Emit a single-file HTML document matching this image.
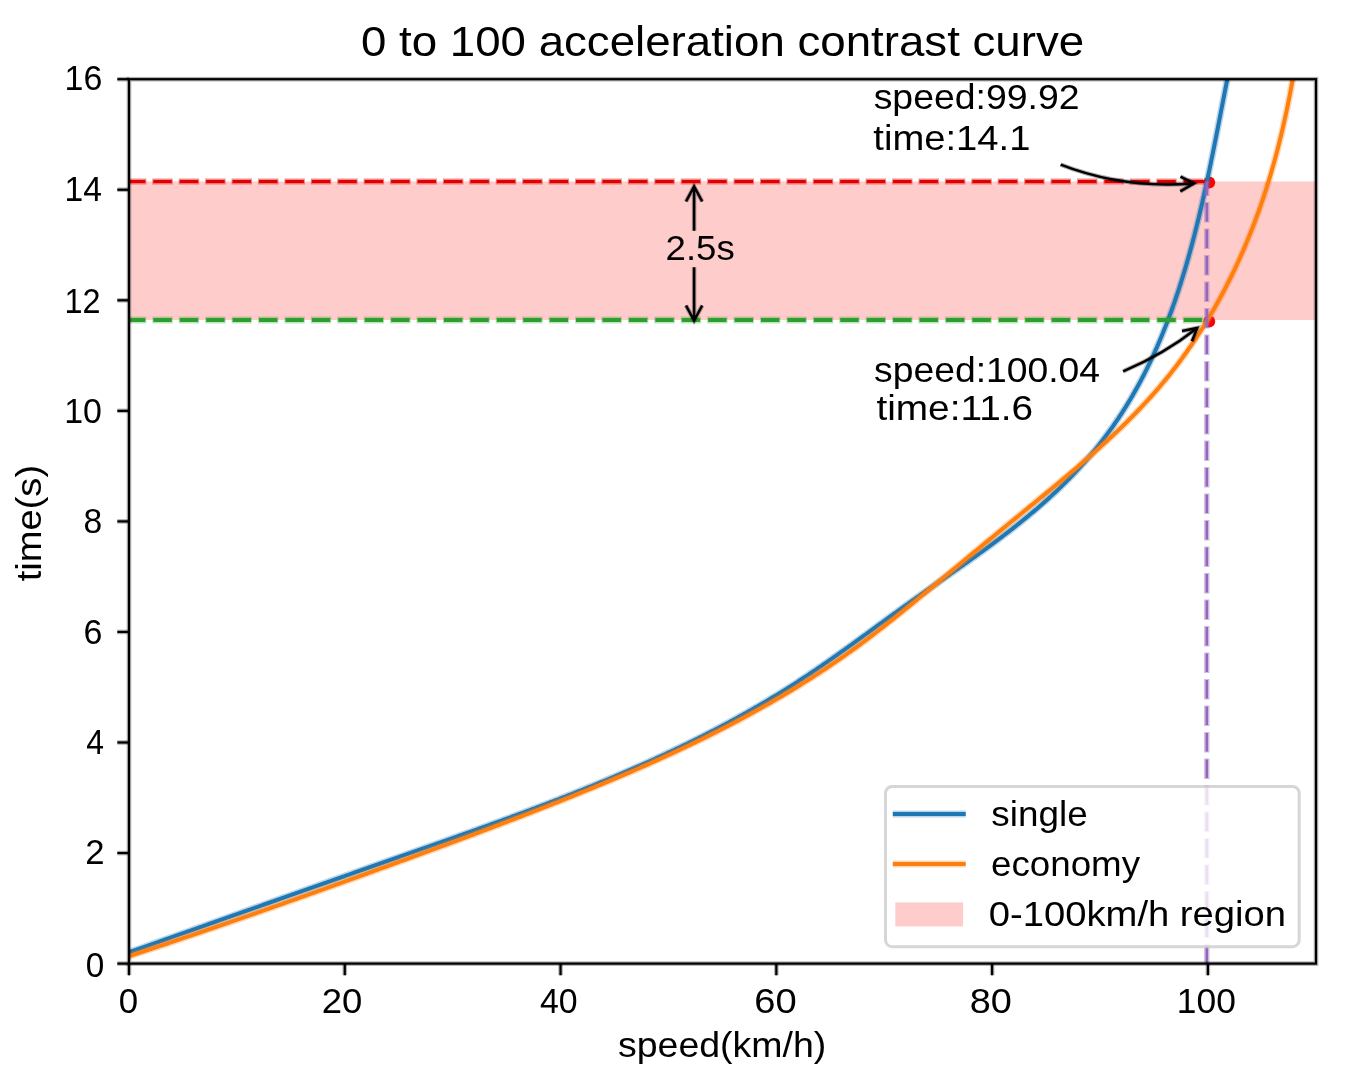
<!DOCTYPE html>
<html><head><meta charset="utf-8"><style>
html,body{margin:0;padding:0;background:#fff;}
body{width:1345px;height:1079px;overflow:hidden;}
svg{display:block;will-change:transform;}
text{font-family:"Liberation Sans",sans-serif;fill:#000;}
</style></head><body>
<svg width="1345" height="1079" viewBox="0 0 1345 1079">
<rect width="1345" height="1079" fill="#fff"/>
<defs><clipPath id="ax"><rect x="129.0" y="79.2" width="1187.0" height="884.4"/></clipPath></defs>
<rect x="129.0" y="181.5" width="1187.0" height="138.5" fill="#ffcccc"/>
<circle cx="1209.2" cy="182.6" r="6" fill="#ff0000"/>
<circle cx="1209.2" cy="321.6" r="6" fill="#ff0000"/>
<path d="M128.90,952.36 L130.69,951.73 L132.48,951.10 L134.27,950.47 L136.05,949.84 L137.84,949.21 L139.63,948.58 L141.41,947.95 L143.20,947.32 L144.99,946.69 L146.77,946.06 L148.56,945.43 L150.34,944.79 L152.13,944.16 L153.91,943.53 L155.70,942.90 L157.48,942.27 L159.27,941.64 L161.05,941.01 L162.83,940.38 L164.62,939.75 L166.40,939.12 L168.18,938.49 L169.97,937.86 L171.75,937.23 L173.53,936.60 L175.31,935.97 L177.10,935.34 L178.88,934.71 L180.66,934.08 L182.44,933.45 L184.22,932.82 L186.00,932.19 L187.78,931.56 L189.57,930.93 L191.35,930.30 L193.13,929.67 L194.91,929.04 L196.69,928.41 L198.47,927.78 L200.25,927.15 L202.03,926.52 L203.81,925.89 L205.58,925.26 L207.36,924.64 L209.14,924.01 L210.92,923.38 L212.70,922.75 L214.48,922.12 L216.26,921.49 L218.04,920.86 L219.81,920.23 L221.59,919.60 L223.37,918.97 L225.15,918.34 L226.93,917.71 L228.70,917.08 L230.48,916.46 L232.26,915.83 L234.04,915.20 L235.81,914.57 L237.59,913.94 L239.37,913.31 L241.14,912.68 L242.92,912.05 L244.70,911.43 L246.47,910.80 L248.25,910.17 L250.03,909.54 L251.80,908.91 L253.58,908.28 L255.36,907.65 L257.13,907.03 L258.91,906.40 L260.69,905.77 L262.46,905.14 L264.24,904.51 L266.02,903.88 L267.79,903.26 L269.57,902.63 L271.34,902.00 L273.12,901.37 L274.90,900.74 L276.67,900.12 L278.45,899.49 L280.22,898.86 L282.00,898.23 L283.78,897.60 L285.55,896.98 L287.33,896.35 L289.10,895.72 L290.88,895.09 L292.66,894.46 L294.43,893.84 L296.21,893.21 L297.98,892.58 L299.76,891.95 L301.54,891.33 L303.31,890.70 L305.09,890.07 L306.86,889.44 L308.64,888.82 L310.42,888.19 L312.19,887.56 L313.97,886.93 L315.75,886.31 L317.52,885.68 L319.30,885.05 L321.08,884.43 L322.85,883.80 L324.63,883.17 L326.41,882.54 L328.18,881.92 L329.96,881.29 L331.74,880.66 L333.51,880.04 L335.29,879.41 L337.07,878.78 L338.85,878.16 L340.62,877.53 L342.40,876.90 L344.18,876.27 L345.96,875.65 L347.73,875.02 L349.51,874.39 L351.29,873.77 L353.07,873.14 L354.85,872.51 L356.62,871.89 L358.40,871.26 L360.18,870.64 L361.96,870.01 L363.74,869.38 L365.52,868.76 L367.30,868.13 L369.08,867.50 L370.86,866.88 L372.64,866.25 L374.42,865.62 L376.20,865.00 L377.98,864.37 L379.76,863.75 L381.54,863.12 L383.32,862.49 L385.10,861.87 L386.88,861.24 L388.66,860.62 L390.44,859.99 L392.23,859.36 L394.01,858.74 L395.79,858.11 L397.57,857.49 L399.35,856.86 L401.14,856.23 L402.92,855.61 L404.70,854.98 L406.49,854.36 L408.27,853.73 L410.05,853.10 L411.84,852.48 L413.62,851.85 L415.41,851.23 L417.19,850.60 L418.97,849.97 L420.76,849.35 L422.54,848.72 L424.33,848.09 L426.11,847.47 L427.90,846.84 L429.68,846.21 L431.47,845.59 L433.25,844.96 L435.04,844.33 L436.82,843.70 L438.61,843.07 L440.39,842.44 L442.18,841.81 L443.96,841.18 L445.75,840.55 L447.53,839.92 L449.31,839.29 L451.10,838.66 L452.88,838.03 L454.67,837.40 L456.45,836.77 L458.24,836.13 L460.02,835.50 L461.81,834.87 L463.59,834.23 L465.37,833.60 L467.16,832.96 L468.94,832.33 L470.73,831.69 L472.51,831.05 L474.29,830.42 L476.08,829.78 L477.86,829.14 L479.64,828.50 L481.42,827.86 L483.21,827.22 L484.99,826.58 L486.77,825.93 L488.55,825.29 L490.33,824.65 L492.11,824.00 L493.89,823.36 L495.68,822.71 L497.46,822.07 L499.24,821.42 L501.01,820.77 L502.79,820.12 L504.57,819.47 L506.35,818.82 L508.13,818.17 L509.91,817.52 L511.69,816.86 L513.46,816.21 L515.24,815.55 L517.02,814.90 L518.79,814.24 L520.57,813.58 L522.34,812.92 L524.12,812.26 L525.89,811.60 L527.66,810.94 L529.44,810.27 L531.21,809.61 L532.98,808.94 L534.76,808.28 L536.53,807.61 L538.30,806.94 L540.07,806.27 L541.84,805.60 L543.61,804.92 L545.38,804.25 L547.14,803.58 L548.91,802.90 L550.68,802.22 L552.45,801.54 L554.21,800.86 L555.98,800.18 L557.74,799.50 L559.51,798.82 L561.27,798.13 L563.03,797.44 L564.79,796.76 L566.56,796.07 L568.32,795.37 L570.08,794.68 L571.84,793.99 L573.59,793.29 L575.35,792.60 L577.11,791.90 L578.87,791.20 L580.62,790.50 L582.38,789.80 L584.13,789.09 L585.89,788.39 L587.64,787.68 L589.39,786.97 L591.14,786.26 L592.89,785.55 L594.64,784.83 L596.39,784.12 L598.14,783.40 L599.89,782.68 L601.63,781.96 L603.38,781.24 L605.12,780.52 L606.87,779.79 L608.61,779.06 L610.35,778.33 L612.09,777.60 L613.84,776.87 L615.57,776.14 L617.31,775.40 L619.05,774.66 L620.79,773.92 L622.52,773.18 L624.26,772.44 L625.99,771.69 L627.72,770.94 L629.46,770.19 L631.19,769.44 L632.92,768.69 L634.65,767.93 L636.37,767.18 L638.10,766.42 L639.83,765.66 L641.55,764.89 L643.27,764.13 L645.00,763.36 L646.72,762.59 L648.44,761.82 L650.16,761.04 L651.87,760.27 L653.59,759.49 L655.31,758.71 L657.02,757.93 L658.74,757.14 L660.45,756.36 L662.16,755.57 L663.87,754.77 L665.58,753.98 L667.29,753.18 L668.99,752.39 L670.70,751.59 L672.40,750.78 L674.10,749.98 L675.81,749.17 L677.51,748.36 L679.21,747.55 L680.90,746.73 L682.60,745.92 L684.29,745.10 L685.99,744.28 L687.68,743.45 L689.37,742.62 L691.06,741.79 L692.75,740.96 L694.44,740.13 L696.12,739.29 L697.81,738.45 L699.49,737.61 L701.17,736.77 L702.85,735.92 L704.53,735.07 L706.21,734.22 L707.89,733.36 L709.56,732.50 L711.24,731.64 L712.91,730.78 L714.58,729.92 L716.25,729.05 L717.91,728.18 L719.58,727.30 L721.24,726.43 L722.91,725.55 L724.57,724.66 L726.23,723.78 L727.89,722.89 L729.55,722.00 L731.20,721.11 L732.85,720.21 L734.51,719.31 L736.16,718.41 L737.81,717.50 L739.45,716.60 L741.10,715.68 L742.74,714.77 L744.39,713.85 L746.03,712.93 L747.67,712.01 L749.31,711.09 L750.94,710.16 L752.58,709.22 L754.21,708.29 L755.84,707.35 L757.47,706.41 L759.10,705.47 L760.72,704.52 L762.35,703.57 L763.97,702.61 L765.59,701.66 L767.21,700.70 L768.83,699.73 L770.44,698.77 L772.06,697.80 L773.67,696.82 L775.28,695.85 L776.89,694.87 L778.49,693.89 L780.10,692.90 L781.70,691.91 L783.30,690.92 L784.90,689.92 L786.50,688.92 L788.09,687.92 L789.69,686.91 L791.28,685.90 L792.87,684.89 L794.46,683.87 L796.04,682.85 L797.63,681.83 L799.21,680.80 L800.79,679.77 L802.37,678.74 L803.94,677.70 L805.52,676.66 L807.09,675.62 L808.66,674.57 L810.23,673.52 L811.80,672.47 L813.36,671.41 L814.93,670.35 L816.49,669.29 L818.05,668.22 L819.61,667.16 L821.17,666.09 L822.73,665.02 L824.28,663.94 L825.84,662.86 L827.39,661.78 L828.94,660.70 L830.49,659.62 L832.04,658.53 L833.59,657.45 L835.13,656.36 L836.68,655.26 L838.22,654.17 L839.77,653.08 L841.31,651.98 L842.85,650.88 L844.39,649.78 L845.93,648.68 L847.47,647.58 L849.01,646.47 L850.55,645.37 L852.08,644.26 L853.62,643.15 L855.16,642.05 L856.69,640.94 L858.22,639.83 L859.76,638.71 L861.29,637.60 L862.82,636.49 L864.36,635.38 L865.89,634.26 L867.42,633.15 L868.95,632.04 L870.48,630.92 L872.01,629.81 L873.54,628.69 L875.08,627.58 L876.61,626.46 L878.14,625.35 L879.67,624.23 L881.20,623.12 L882.73,622.00 L884.26,620.89 L885.79,619.78 L887.32,618.66 L888.85,617.55 L890.38,616.44 L891.91,615.33 L893.44,614.22 L894.98,613.11 L896.51,612.00 L898.04,610.89 L899.57,609.79 L901.11,608.68 L902.64,607.58 L904.18,606.47 L905.71,605.37 L907.25,604.27 L908.78,603.18 L910.32,602.08 L911.86,600.98 L913.40,599.89 L914.94,598.80 L916.48,597.71 L918.02,596.62 L919.56,595.53 L921.10,594.45 L922.65,593.36 L924.19,592.28 L925.73,591.19 L927.28,590.11 L928.82,589.03 L930.37,587.95 L931.91,586.87 L933.46,585.79 L935.00,584.71 L936.55,583.63 L938.09,582.56 L939.64,581.48 L941.18,580.40 L942.73,579.32 L944.27,578.25 L945.82,577.17 L947.36,576.09 L948.91,575.01 L950.45,573.93 L952.00,572.85 L953.54,571.77 L955.08,570.69 L956.63,569.61 L958.17,568.53 L959.71,567.45 L961.25,566.36 L962.79,565.28 L964.33,564.19 L965.87,563.11 L967.41,562.02 L968.95,560.93 L970.48,559.83 L972.02,558.74 L973.55,557.65 L975.09,556.55 L976.62,555.45 L978.15,554.35 L979.68,553.25 L981.21,552.14 L982.74,551.03 L984.26,549.92 L985.79,548.81 L987.31,547.70 L988.84,546.58 L990.36,545.46 L991.88,544.34 L993.39,543.21 L994.91,542.08 L996.42,540.95 L997.94,539.82 L999.45,538.68 L1000.95,537.54 L1002.46,536.40 L1003.96,535.25 L1005.46,534.10 L1006.96,532.95 L1008.46,531.80 L1009.96,530.64 L1011.45,529.48 L1012.94,528.31 L1014.42,527.14 L1015.91,525.97 L1017.39,524.79 L1018.87,523.61 L1020.34,522.43 L1021.81,521.24 L1023.28,520.05 L1024.75,518.86 L1026.21,517.66 L1027.67,516.46 L1029.13,515.25 L1030.58,514.04 L1032.03,512.82 L1033.47,511.60 L1034.91,510.38 L1036.35,509.15 L1037.78,507.92 L1039.21,506.68 L1040.64,505.44 L1042.06,504.20 L1043.48,502.95 L1044.89,501.69 L1046.30,500.43 L1047.71,499.17 L1049.11,497.90 L1050.50,496.63 L1051.89,495.35 L1053.28,494.07 L1054.66,492.78 L1056.04,491.49 L1057.41,490.19 L1058.78,488.88 L1060.14,487.57 L1061.50,486.26 L1062.85,484.94 L1064.20,483.62 L1065.54,482.29 L1066.88,480.95 L1068.21,479.61 L1069.53,478.26 L1070.85,476.91 L1072.17,475.55 L1073.48,474.19 L1074.78,472.82 L1076.07,471.44 L1077.37,470.06 L1078.65,468.67 L1079.93,467.28 L1081.20,465.88 L1082.47,464.48 L1083.73,463.06 L1084.98,461.65 L1086.23,460.23 L1087.47,458.80 L1088.70,457.36 L1089.93,455.92 L1091.15,454.48 L1092.37,453.03 L1093.58,451.57 L1094.78,450.11 L1095.97,448.64 L1097.16,447.17 L1098.34,445.69 L1099.52,444.21 L1100.69,442.72 L1101.85,441.23 L1103.00,439.73 L1104.15,438.23 L1105.29,436.72 L1106.42,435.21 L1107.54,433.69 L1108.66,432.17 L1109.77,430.64 L1110.87,429.11 L1111.97,427.58 L1113.06,426.04 L1114.14,424.49 L1115.21,422.94 L1116.27,421.39 L1117.33,419.83 L1118.38,418.27 L1119.42,416.70 L1120.46,415.13 L1121.48,413.55 L1122.50,411.97 L1123.51,410.39 L1124.52,408.80 L1125.52,407.21 L1126.50,405.61 L1127.49,404.01 L1128.46,402.41 L1129.43,400.80 L1130.39,399.19 L1131.34,397.58 L1132.29,395.96 L1133.23,394.33 L1134.16,392.71 L1135.08,391.07 L1136.00,389.44 L1136.91,387.80 L1137.82,386.16 L1138.71,384.51 L1139.60,382.86 L1140.49,381.21 L1141.36,379.56 L1142.23,377.90 L1143.10,376.23 L1143.96,374.57 L1144.81,372.89 L1145.65,371.22 L1146.49,369.54 L1147.32,367.86 L1148.14,366.18 L1148.96,364.49 L1149.78,362.80 L1150.58,361.11 L1151.38,359.41 L1152.17,357.71 L1152.96,356.01 L1153.74,354.30 L1154.52,352.59 L1155.29,350.88 L1156.05,349.17 L1156.81,347.45 L1157.56,345.73 L1158.31,344.00 L1159.05,342.28 L1159.78,340.55 L1160.51,338.81 L1161.24,337.08 L1161.95,335.34 L1162.67,333.60 L1163.37,331.86 L1164.07,330.11 L1164.77,328.36 L1165.46,326.61 L1166.15,324.86 L1166.83,323.10 L1167.50,321.34 L1168.17,319.58 L1168.83,317.82 L1169.49,316.05 L1170.15,314.28 L1170.80,312.51 L1171.44,310.74 L1172.08,308.96 L1172.71,307.19 L1173.34,305.41 L1173.97,303.62 L1174.59,301.84 L1175.20,300.05 L1175.81,298.26 L1176.42,296.47 L1177.02,294.68 L1177.61,292.89 L1178.21,291.09 L1178.79,289.29 L1179.38,287.49 L1179.96,285.69 L1180.53,283.88 L1181.10,282.08 L1181.67,280.27 L1182.23,278.46 L1182.78,276.65 L1183.34,274.84 L1183.89,273.02 L1184.43,271.20 L1184.97,269.39 L1185.51,267.57 L1186.04,265.75 L1186.57,263.92 L1187.10,262.10 L1187.62,260.27 L1188.14,258.45 L1188.65,256.62 L1189.16,254.79 L1189.67,252.96 L1190.17,251.13 L1190.67,249.29 L1191.17,247.46 L1191.66,245.62 L1192.15,243.79 L1192.64,241.95 L1193.12,240.11 L1193.60,238.27 L1194.07,236.43 L1194.55,234.58 L1195.02,232.74 L1195.48,230.90 L1195.95,229.05 L1196.41,227.20 L1196.87,225.36 L1197.32,223.51 L1197.77,221.66 L1198.22,219.81 L1198.67,217.96 L1199.11,216.11 L1199.55,214.26 L1199.99,212.41 L1200.42,210.55 L1200.86,208.70 L1201.29,206.85 L1201.72,204.99 L1202.14,203.14 L1202.56,201.28 L1202.98,199.43 L1203.40,197.57 L1203.82,195.71 L1204.23,193.86 L1204.64,192.00 L1205.05,190.14 L1205.46,188.28 L1205.86,186.43 L1206.27,184.57 L1206.67,182.71 L1207.07,180.85 L1207.46,178.99 L1207.86,177.13 L1208.25,175.28 L1208.64,173.42 L1209.03,171.56 L1209.42,169.70 L1209.81,167.84 L1210.19,165.98 L1210.58,164.13 L1210.96,162.27 L1211.34,160.41 L1211.72,158.55 L1212.10,156.70 L1212.47,154.84 L1212.85,152.98 L1213.22,151.13 L1213.59,149.27 L1213.96,147.42 L1214.33,145.56 L1214.70,143.71 L1215.07,141.86 L1215.44,140.00 L1215.80,138.15 L1216.17,136.30 L1216.53,134.45 L1216.89,132.60 L1217.26,130.75 L1217.62,128.90 L1217.98,127.05 L1218.34,125.20 L1218.70,123.36 L1219.06,121.51 L1219.42,119.67 L1219.77,117.82 L1220.13,115.98 L1220.49,114.14 L1220.85,112.30 L1221.20,110.46 L1221.56,108.62 L1221.91,106.78 L1222.27,104.94 L1222.63,103.11 L1222.98,101.28 L1223.34,99.44 L1223.69,97.61 L1224.05,95.78 L1224.40,93.95 L1224.76,92.13 L1225.11,90.30 L1225.47,88.47 L1225.82,86.65 L1226.18,84.83 L1226.54,83.01 L1226.89,81.19 L1227.25,79.37 L1227.61,77.56 L1227.97,75.75 L1228.33,73.93 L1228.69,72.12 L1229.05,70.32" fill="none" stroke="#1f77b4" stroke-width="7.0" stroke-opacity="0.3" stroke-linejoin="round" stroke-linecap="butt" clip-path="url(#ax)"/>
<path d="M128.90,952.36 L130.69,951.73 L132.48,951.10 L134.27,950.47 L136.05,949.84 L137.84,949.21 L139.63,948.58 L141.41,947.95 L143.20,947.32 L144.99,946.69 L146.77,946.06 L148.56,945.43 L150.34,944.79 L152.13,944.16 L153.91,943.53 L155.70,942.90 L157.48,942.27 L159.27,941.64 L161.05,941.01 L162.83,940.38 L164.62,939.75 L166.40,939.12 L168.18,938.49 L169.97,937.86 L171.75,937.23 L173.53,936.60 L175.31,935.97 L177.10,935.34 L178.88,934.71 L180.66,934.08 L182.44,933.45 L184.22,932.82 L186.00,932.19 L187.78,931.56 L189.57,930.93 L191.35,930.30 L193.13,929.67 L194.91,929.04 L196.69,928.41 L198.47,927.78 L200.25,927.15 L202.03,926.52 L203.81,925.89 L205.58,925.26 L207.36,924.64 L209.14,924.01 L210.92,923.38 L212.70,922.75 L214.48,922.12 L216.26,921.49 L218.04,920.86 L219.81,920.23 L221.59,919.60 L223.37,918.97 L225.15,918.34 L226.93,917.71 L228.70,917.08 L230.48,916.46 L232.26,915.83 L234.04,915.20 L235.81,914.57 L237.59,913.94 L239.37,913.31 L241.14,912.68 L242.92,912.05 L244.70,911.43 L246.47,910.80 L248.25,910.17 L250.03,909.54 L251.80,908.91 L253.58,908.28 L255.36,907.65 L257.13,907.03 L258.91,906.40 L260.69,905.77 L262.46,905.14 L264.24,904.51 L266.02,903.88 L267.79,903.26 L269.57,902.63 L271.34,902.00 L273.12,901.37 L274.90,900.74 L276.67,900.12 L278.45,899.49 L280.22,898.86 L282.00,898.23 L283.78,897.60 L285.55,896.98 L287.33,896.35 L289.10,895.72 L290.88,895.09 L292.66,894.46 L294.43,893.84 L296.21,893.21 L297.98,892.58 L299.76,891.95 L301.54,891.33 L303.31,890.70 L305.09,890.07 L306.86,889.44 L308.64,888.82 L310.42,888.19 L312.19,887.56 L313.97,886.93 L315.75,886.31 L317.52,885.68 L319.30,885.05 L321.08,884.43 L322.85,883.80 L324.63,883.17 L326.41,882.54 L328.18,881.92 L329.96,881.29 L331.74,880.66 L333.51,880.04 L335.29,879.41 L337.07,878.78 L338.85,878.16 L340.62,877.53 L342.40,876.90 L344.18,876.27 L345.96,875.65 L347.73,875.02 L349.51,874.39 L351.29,873.77 L353.07,873.14 L354.85,872.51 L356.62,871.89 L358.40,871.26 L360.18,870.64 L361.96,870.01 L363.74,869.38 L365.52,868.76 L367.30,868.13 L369.08,867.50 L370.86,866.88 L372.64,866.25 L374.42,865.62 L376.20,865.00 L377.98,864.37 L379.76,863.75 L381.54,863.12 L383.32,862.49 L385.10,861.87 L386.88,861.24 L388.66,860.62 L390.44,859.99 L392.23,859.36 L394.01,858.74 L395.79,858.11 L397.57,857.49 L399.35,856.86 L401.14,856.23 L402.92,855.61 L404.70,854.98 L406.49,854.36 L408.27,853.73 L410.05,853.10 L411.84,852.48 L413.62,851.85 L415.41,851.23 L417.19,850.60 L418.97,849.97 L420.76,849.35 L422.54,848.72 L424.33,848.09 L426.11,847.47 L427.90,846.84 L429.68,846.21 L431.47,845.59 L433.25,844.96 L435.04,844.33 L436.82,843.70 L438.61,843.07 L440.39,842.44 L442.18,841.81 L443.96,841.18 L445.75,840.55 L447.53,839.92 L449.31,839.29 L451.10,838.66 L452.88,838.03 L454.67,837.40 L456.45,836.77 L458.24,836.13 L460.02,835.50 L461.81,834.87 L463.59,834.23 L465.37,833.60 L467.16,832.96 L468.94,832.33 L470.73,831.69 L472.51,831.05 L474.29,830.42 L476.08,829.78 L477.86,829.14 L479.64,828.50 L481.42,827.86 L483.21,827.22 L484.99,826.58 L486.77,825.93 L488.55,825.29 L490.33,824.65 L492.11,824.00 L493.89,823.36 L495.68,822.71 L497.46,822.07 L499.24,821.42 L501.01,820.77 L502.79,820.12 L504.57,819.47 L506.35,818.82 L508.13,818.17 L509.91,817.52 L511.69,816.86 L513.46,816.21 L515.24,815.55 L517.02,814.90 L518.79,814.24 L520.57,813.58 L522.34,812.92 L524.12,812.26 L525.89,811.60 L527.66,810.94 L529.44,810.27 L531.21,809.61 L532.98,808.94 L534.76,808.28 L536.53,807.61 L538.30,806.94 L540.07,806.27 L541.84,805.60 L543.61,804.92 L545.38,804.25 L547.14,803.58 L548.91,802.90 L550.68,802.22 L552.45,801.54 L554.21,800.86 L555.98,800.18 L557.74,799.50 L559.51,798.82 L561.27,798.13 L563.03,797.44 L564.79,796.76 L566.56,796.07 L568.32,795.37 L570.08,794.68 L571.84,793.99 L573.59,793.29 L575.35,792.60 L577.11,791.90 L578.87,791.20 L580.62,790.50 L582.38,789.80 L584.13,789.09 L585.89,788.39 L587.64,787.68 L589.39,786.97 L591.14,786.26 L592.89,785.55 L594.64,784.83 L596.39,784.12 L598.14,783.40 L599.89,782.68 L601.63,781.96 L603.38,781.24 L605.12,780.52 L606.87,779.79 L608.61,779.06 L610.35,778.33 L612.09,777.60 L613.84,776.87 L615.57,776.14 L617.31,775.40 L619.05,774.66 L620.79,773.92 L622.52,773.18 L624.26,772.44 L625.99,771.69 L627.72,770.94 L629.46,770.19 L631.19,769.44 L632.92,768.69 L634.65,767.93 L636.37,767.18 L638.10,766.42 L639.83,765.66 L641.55,764.89 L643.27,764.13 L645.00,763.36 L646.72,762.59 L648.44,761.82 L650.16,761.04 L651.87,760.27 L653.59,759.49 L655.31,758.71 L657.02,757.93 L658.74,757.14 L660.45,756.36 L662.16,755.57 L663.87,754.77 L665.58,753.98 L667.29,753.18 L668.99,752.39 L670.70,751.59 L672.40,750.78 L674.10,749.98 L675.81,749.17 L677.51,748.36 L679.21,747.55 L680.90,746.73 L682.60,745.92 L684.29,745.10 L685.99,744.28 L687.68,743.45 L689.37,742.62 L691.06,741.79 L692.75,740.96 L694.44,740.13 L696.12,739.29 L697.81,738.45 L699.49,737.61 L701.17,736.77 L702.85,735.92 L704.53,735.07 L706.21,734.22 L707.89,733.36 L709.56,732.50 L711.24,731.64 L712.91,730.78 L714.58,729.92 L716.25,729.05 L717.91,728.18 L719.58,727.30 L721.24,726.43 L722.91,725.55 L724.57,724.66 L726.23,723.78 L727.89,722.89 L729.55,722.00 L731.20,721.11 L732.85,720.21 L734.51,719.31 L736.16,718.41 L737.81,717.50 L739.45,716.60 L741.10,715.68 L742.74,714.77 L744.39,713.85 L746.03,712.93 L747.67,712.01 L749.31,711.09 L750.94,710.16 L752.58,709.22 L754.21,708.29 L755.84,707.35 L757.47,706.41 L759.10,705.47 L760.72,704.52 L762.35,703.57 L763.97,702.61 L765.59,701.66 L767.21,700.70 L768.83,699.73 L770.44,698.77 L772.06,697.80 L773.67,696.82 L775.28,695.85 L776.89,694.87 L778.49,693.89 L780.10,692.90 L781.70,691.91 L783.30,690.92 L784.90,689.92 L786.50,688.92 L788.09,687.92 L789.69,686.91 L791.28,685.90 L792.87,684.89 L794.46,683.87 L796.04,682.85 L797.63,681.83 L799.21,680.80 L800.79,679.77 L802.37,678.74 L803.94,677.70 L805.52,676.66 L807.09,675.62 L808.66,674.57 L810.23,673.52 L811.80,672.47 L813.36,671.41 L814.93,670.35 L816.49,669.29 L818.05,668.22 L819.61,667.16 L821.17,666.09 L822.73,665.02 L824.28,663.94 L825.84,662.86 L827.39,661.78 L828.94,660.70 L830.49,659.62 L832.04,658.53 L833.59,657.45 L835.13,656.36 L836.68,655.26 L838.22,654.17 L839.77,653.08 L841.31,651.98 L842.85,650.88 L844.39,649.78 L845.93,648.68 L847.47,647.58 L849.01,646.47 L850.55,645.37 L852.08,644.26 L853.62,643.15 L855.16,642.05 L856.69,640.94 L858.22,639.83 L859.76,638.71 L861.29,637.60 L862.82,636.49 L864.36,635.38 L865.89,634.26 L867.42,633.15 L868.95,632.04 L870.48,630.92 L872.01,629.81 L873.54,628.69 L875.08,627.58 L876.61,626.46 L878.14,625.35 L879.67,624.23 L881.20,623.12 L882.73,622.00 L884.26,620.89 L885.79,619.78 L887.32,618.66 L888.85,617.55 L890.38,616.44 L891.91,615.33 L893.44,614.22 L894.98,613.11 L896.51,612.00 L898.04,610.89 L899.57,609.79 L901.11,608.68 L902.64,607.58 L904.18,606.47 L905.71,605.37 L907.25,604.27 L908.78,603.18 L910.32,602.08 L911.86,600.98 L913.40,599.89 L914.94,598.80 L916.48,597.71 L918.02,596.62 L919.56,595.53 L921.10,594.45 L922.65,593.36 L924.19,592.28 L925.73,591.19 L927.28,590.11 L928.82,589.03 L930.37,587.95 L931.91,586.87 L933.46,585.79 L935.00,584.71 L936.55,583.63 L938.09,582.56 L939.64,581.48 L941.18,580.40 L942.73,579.32 L944.27,578.25 L945.82,577.17 L947.36,576.09 L948.91,575.01 L950.45,573.93 L952.00,572.85 L953.54,571.77 L955.08,570.69 L956.63,569.61 L958.17,568.53 L959.71,567.45 L961.25,566.36 L962.79,565.28 L964.33,564.19 L965.87,563.11 L967.41,562.02 L968.95,560.93 L970.48,559.83 L972.02,558.74 L973.55,557.65 L975.09,556.55 L976.62,555.45 L978.15,554.35 L979.68,553.25 L981.21,552.14 L982.74,551.03 L984.26,549.92 L985.79,548.81 L987.31,547.70 L988.84,546.58 L990.36,545.46 L991.88,544.34 L993.39,543.21 L994.91,542.08 L996.42,540.95 L997.94,539.82 L999.45,538.68 L1000.95,537.54 L1002.46,536.40 L1003.96,535.25 L1005.46,534.10 L1006.96,532.95 L1008.46,531.80 L1009.96,530.64 L1011.45,529.48 L1012.94,528.31 L1014.42,527.14 L1015.91,525.97 L1017.39,524.79 L1018.87,523.61 L1020.34,522.43 L1021.81,521.24 L1023.28,520.05 L1024.75,518.86 L1026.21,517.66 L1027.67,516.46 L1029.13,515.25 L1030.58,514.04 L1032.03,512.82 L1033.47,511.60 L1034.91,510.38 L1036.35,509.15 L1037.78,507.92 L1039.21,506.68 L1040.64,505.44 L1042.06,504.20 L1043.48,502.95 L1044.89,501.69 L1046.30,500.43 L1047.71,499.17 L1049.11,497.90 L1050.50,496.63 L1051.89,495.35 L1053.28,494.07 L1054.66,492.78 L1056.04,491.49 L1057.41,490.19 L1058.78,488.88 L1060.14,487.57 L1061.50,486.26 L1062.85,484.94 L1064.20,483.62 L1065.54,482.29 L1066.88,480.95 L1068.21,479.61 L1069.53,478.26 L1070.85,476.91 L1072.17,475.55 L1073.48,474.19 L1074.78,472.82 L1076.07,471.44 L1077.37,470.06 L1078.65,468.67 L1079.93,467.28 L1081.20,465.88 L1082.47,464.48 L1083.73,463.06 L1084.98,461.65 L1086.23,460.23 L1087.47,458.80 L1088.70,457.36 L1089.93,455.92 L1091.15,454.48 L1092.37,453.03 L1093.58,451.57 L1094.78,450.11 L1095.97,448.64 L1097.16,447.17 L1098.34,445.69 L1099.52,444.21 L1100.69,442.72 L1101.85,441.23 L1103.00,439.73 L1104.15,438.23 L1105.29,436.72 L1106.42,435.21 L1107.54,433.69 L1108.66,432.17 L1109.77,430.64 L1110.87,429.11 L1111.97,427.58 L1113.06,426.04 L1114.14,424.49 L1115.21,422.94 L1116.27,421.39 L1117.33,419.83 L1118.38,418.27 L1119.42,416.70 L1120.46,415.13 L1121.48,413.55 L1122.50,411.97 L1123.51,410.39 L1124.52,408.80 L1125.52,407.21 L1126.50,405.61 L1127.49,404.01 L1128.46,402.41 L1129.43,400.80 L1130.39,399.19 L1131.34,397.58 L1132.29,395.96 L1133.23,394.33 L1134.16,392.71 L1135.08,391.07 L1136.00,389.44 L1136.91,387.80 L1137.82,386.16 L1138.71,384.51 L1139.60,382.86 L1140.49,381.21 L1141.36,379.56 L1142.23,377.90 L1143.10,376.23 L1143.96,374.57 L1144.81,372.89 L1145.65,371.22 L1146.49,369.54 L1147.32,367.86 L1148.14,366.18 L1148.96,364.49 L1149.78,362.80 L1150.58,361.11 L1151.38,359.41 L1152.17,357.71 L1152.96,356.01 L1153.74,354.30 L1154.52,352.59 L1155.29,350.88 L1156.05,349.17 L1156.81,347.45 L1157.56,345.73 L1158.31,344.00 L1159.05,342.28 L1159.78,340.55 L1160.51,338.81 L1161.24,337.08 L1161.95,335.34 L1162.67,333.60 L1163.37,331.86 L1164.07,330.11 L1164.77,328.36 L1165.46,326.61 L1166.15,324.86 L1166.83,323.10 L1167.50,321.34 L1168.17,319.58 L1168.83,317.82 L1169.49,316.05 L1170.15,314.28 L1170.80,312.51 L1171.44,310.74 L1172.08,308.96 L1172.71,307.19 L1173.34,305.41 L1173.97,303.62 L1174.59,301.84 L1175.20,300.05 L1175.81,298.26 L1176.42,296.47 L1177.02,294.68 L1177.61,292.89 L1178.21,291.09 L1178.79,289.29 L1179.38,287.49 L1179.96,285.69 L1180.53,283.88 L1181.10,282.08 L1181.67,280.27 L1182.23,278.46 L1182.78,276.65 L1183.34,274.84 L1183.89,273.02 L1184.43,271.20 L1184.97,269.39 L1185.51,267.57 L1186.04,265.75 L1186.57,263.92 L1187.10,262.10 L1187.62,260.27 L1188.14,258.45 L1188.65,256.62 L1189.16,254.79 L1189.67,252.96 L1190.17,251.13 L1190.67,249.29 L1191.17,247.46 L1191.66,245.62 L1192.15,243.79 L1192.64,241.95 L1193.12,240.11 L1193.60,238.27 L1194.07,236.43 L1194.55,234.58 L1195.02,232.74 L1195.48,230.90 L1195.95,229.05 L1196.41,227.20 L1196.87,225.36 L1197.32,223.51 L1197.77,221.66 L1198.22,219.81 L1198.67,217.96 L1199.11,216.11 L1199.55,214.26 L1199.99,212.41 L1200.42,210.55 L1200.86,208.70 L1201.29,206.85 L1201.72,204.99 L1202.14,203.14 L1202.56,201.28 L1202.98,199.43 L1203.40,197.57 L1203.82,195.71 L1204.23,193.86 L1204.64,192.00 L1205.05,190.14 L1205.46,188.28 L1205.86,186.43 L1206.27,184.57 L1206.67,182.71 L1207.07,180.85 L1207.46,178.99 L1207.86,177.13 L1208.25,175.28 L1208.64,173.42 L1209.03,171.56 L1209.42,169.70 L1209.81,167.84 L1210.19,165.98 L1210.58,164.13 L1210.96,162.27 L1211.34,160.41 L1211.72,158.55 L1212.10,156.70 L1212.47,154.84 L1212.85,152.98 L1213.22,151.13 L1213.59,149.27 L1213.96,147.42 L1214.33,145.56 L1214.70,143.71 L1215.07,141.86 L1215.44,140.00 L1215.80,138.15 L1216.17,136.30 L1216.53,134.45 L1216.89,132.60 L1217.26,130.75 L1217.62,128.90 L1217.98,127.05 L1218.34,125.20 L1218.70,123.36 L1219.06,121.51 L1219.42,119.67 L1219.77,117.82 L1220.13,115.98 L1220.49,114.14 L1220.85,112.30 L1221.20,110.46 L1221.56,108.62 L1221.91,106.78 L1222.27,104.94 L1222.63,103.11 L1222.98,101.28 L1223.34,99.44 L1223.69,97.61 L1224.05,95.78 L1224.40,93.95 L1224.76,92.13 L1225.11,90.30 L1225.47,88.47 L1225.82,86.65 L1226.18,84.83 L1226.54,83.01 L1226.89,81.19 L1227.25,79.37 L1227.61,77.56 L1227.97,75.75 L1228.33,73.93 L1228.69,72.12 L1229.05,70.32" fill="none" stroke="#1f77b4" stroke-width="4.0" stroke-linejoin="round" stroke-linecap="butt" clip-path="url(#ax)"/>
<path d="M129.02,956.27 L130.85,955.66 L132.67,955.06 L134.50,954.46 L136.33,953.86 L138.16,953.25 L139.99,952.65 L141.81,952.04 L143.64,951.44 L145.47,950.83 L147.30,950.22 L149.12,949.62 L150.95,949.01 L152.78,948.40 L154.60,947.79 L156.43,947.18 L158.26,946.57 L160.08,945.96 L161.91,945.35 L163.73,944.74 L165.56,944.12 L167.39,943.51 L169.21,942.90 L171.04,942.28 L172.86,941.67 L174.69,941.05 L176.52,940.44 L178.34,939.82 L180.17,939.20 L181.99,938.59 L183.82,937.97 L185.64,937.35 L187.47,936.73 L189.29,936.11 L191.11,935.49 L192.94,934.87 L194.76,934.25 L196.59,933.63 L198.41,933.01 L200.24,932.38 L202.06,931.76 L203.88,931.14 L205.71,930.51 L207.53,929.89 L209.35,929.26 L211.18,928.64 L213.00,928.01 L214.82,927.38 L216.65,926.76 L218.47,926.13 L220.29,925.50 L222.12,924.87 L223.94,924.25 L225.76,923.62 L227.58,922.99 L229.41,922.36 L231.23,921.73 L233.05,921.09 L234.87,920.46 L236.69,919.83 L238.52,919.20 L240.34,918.57 L242.16,917.93 L243.98,917.30 L245.80,916.67 L247.62,916.03 L249.44,915.40 L251.26,914.76 L253.09,914.12 L254.91,913.49 L256.73,912.85 L258.55,912.21 L260.37,911.58 L262.19,910.94 L264.01,910.30 L265.83,909.66 L267.65,909.02 L269.47,908.38 L271.29,907.74 L273.11,907.10 L274.93,906.46 L276.75,905.82 L278.57,905.18 L280.39,904.54 L282.20,903.90 L284.02,903.25 L285.84,902.61 L287.66,901.97 L289.48,901.32 L291.30,900.68 L293.12,900.04 L294.94,899.39 L296.75,898.75 L298.57,898.10 L300.39,897.45 L302.21,896.81 L304.03,896.16 L305.84,895.52 L307.66,894.87 L309.48,894.22 L311.30,893.57 L313.11,892.92 L314.93,892.28 L316.75,891.63 L318.56,890.98 L320.38,890.33 L322.20,889.68 L324.01,889.03 L325.83,888.38 L327.65,887.73 L329.46,887.08 L331.28,886.43 L333.10,885.78 L334.91,885.12 L336.73,884.47 L338.54,883.82 L340.36,883.17 L342.17,882.51 L343.99,881.86 L345.81,881.21 L347.62,880.55 L349.44,879.90 L351.25,879.24 L353.07,878.59 L354.88,877.93 L356.70,877.28 L358.51,876.62 L360.32,875.97 L362.14,875.31 L363.95,874.66 L365.77,874.00 L367.58,873.34 L369.39,872.69 L371.21,872.03 L373.02,871.37 L374.84,870.71 L376.65,870.06 L378.46,869.40 L380.28,868.74 L382.09,868.08 L383.90,867.42 L385.72,866.76 L387.53,866.11 L389.34,865.45 L391.15,864.79 L392.97,864.13 L394.78,863.47 L396.59,862.81 L398.40,862.15 L400.21,861.49 L402.03,860.83 L403.84,860.16 L405.65,859.50 L407.46,858.84 L409.27,858.18 L411.08,857.52 L412.90,856.86 L414.71,856.19 L416.52,855.53 L418.33,854.87 L420.14,854.21 L421.95,853.54 L423.76,852.88 L425.57,852.21 L427.38,851.55 L429.19,850.89 L431.00,850.22 L432.81,849.55 L434.62,848.89 L436.43,848.22 L438.24,847.56 L440.05,846.89 L441.86,846.22 L443.67,845.55 L445.47,844.89 L447.28,844.22 L449.09,843.55 L450.90,842.88 L452.71,842.21 L454.51,841.54 L456.32,840.87 L458.13,840.20 L459.94,839.53 L461.74,838.85 L463.55,838.18 L465.36,837.51 L467.16,836.83 L468.97,836.16 L470.77,835.48 L472.58,834.81 L474.39,834.13 L476.19,833.46 L478.00,832.78 L479.80,832.10 L481.61,831.42 L483.41,830.74 L485.21,830.07 L487.02,829.39 L488.82,828.70 L490.63,828.02 L492.43,827.34 L494.23,826.66 L496.03,825.98 L497.84,825.29 L499.64,824.61 L501.44,823.92 L503.24,823.23 L505.05,822.55 L506.85,821.86 L508.65,821.17 L510.45,820.48 L512.25,819.79 L514.05,819.10 L515.85,818.41 L517.65,817.72 L519.45,817.03 L521.25,816.33 L523.05,815.64 L524.84,814.94 L526.64,814.25 L528.44,813.55 L530.24,812.85 L532.04,812.15 L533.83,811.45 L535.63,810.75 L537.43,810.05 L539.22,809.35 L541.02,808.65 L542.81,807.94 L544.61,807.24 L546.41,806.53 L548.20,805.82 L549.99,805.12 L551.79,804.41 L553.58,803.70 L555.38,802.99 L557.17,802.28 L558.96,801.56 L560.75,800.85 L562.55,800.14 L564.34,799.42 L566.13,798.70 L567.92,797.99 L569.71,797.27 L571.50,796.55 L573.29,795.83 L575.08,795.10 L576.87,794.38 L578.66,793.66 L580.45,792.93 L582.24,792.20 L584.02,791.48 L585.81,790.75 L587.60,790.02 L589.38,789.28 L591.17,788.55 L592.95,787.82 L594.74,787.08 L596.52,786.35 L598.31,785.61 L600.09,784.87 L601.87,784.13 L603.66,783.38 L605.44,782.64 L607.22,781.89 L609.00,781.15 L610.78,780.40 L612.56,779.65 L614.34,778.90 L616.11,778.14 L617.89,777.39 L619.67,776.63 L621.44,775.88 L623.22,775.12 L624.99,774.36 L626.77,773.59 L628.54,772.83 L630.31,772.06 L632.09,771.29 L633.86,770.53 L635.63,769.75 L637.40,768.98 L639.16,768.21 L640.93,767.43 L642.70,766.65 L644.47,765.87 L646.23,765.09 L648.00,764.30 L649.76,763.52 L651.52,762.73 L653.29,761.94 L655.05,761.15 L656.81,760.35 L658.57,759.56 L660.33,758.76 L662.08,757.96 L663.84,757.16 L665.60,756.35 L667.35,755.54 L669.11,754.74 L670.86,753.93 L672.61,753.11 L674.36,752.30 L676.11,751.48 L677.86,750.66 L679.61,749.84 L681.36,749.01 L683.10,748.19 L684.85,747.36 L686.59,746.53 L688.34,745.69 L690.08,744.86 L691.82,744.02 L693.56,743.18 L695.30,742.34 L697.03,741.49 L698.77,740.64 L700.50,739.80 L702.24,738.94 L703.97,738.09 L705.70,737.23 L707.43,736.37 L709.16,735.51 L710.89,734.64 L712.61,733.78 L714.34,732.91 L716.06,732.04 L717.78,731.16 L719.51,730.28 L721.22,729.40 L722.94,728.52 L724.66,727.64 L726.37,726.75 L728.09,725.86 L729.80,724.97 L731.51,724.07 L733.22,723.17 L734.93,722.27 L736.64,721.37 L738.34,720.46 L740.04,719.55 L741.75,718.64 L743.45,717.73 L745.15,716.81 L746.84,715.89 L748.54,714.97 L750.23,714.04 L751.93,713.11 L753.62,712.18 L755.30,711.25 L756.99,710.31 L758.68,709.37 L760.36,708.43 L762.04,707.49 L763.73,706.54 L765.40,705.59 L767.08,704.63 L768.76,703.68 L770.43,702.72 L772.10,701.75 L773.77,700.79 L775.44,699.82 L777.11,698.85 L778.77,697.87 L780.43,696.90 L782.09,695.92 L783.75,694.93 L785.41,693.95 L787.06,692.96 L788.72,691.96 L790.37,690.97 L792.02,689.97 L793.66,688.97 L795.31,687.96 L796.95,686.95 L798.59,685.94 L800.23,684.93 L801.87,683.91 L803.50,682.89 L805.13,681.86 L806.77,680.83 L808.39,679.80 L810.02,678.77 L811.64,677.73 L813.27,676.69 L814.89,675.65 L816.50,674.60 L818.12,673.55 L819.73,672.50 L821.34,671.44 L822.95,670.38 L824.56,669.32 L826.16,668.25 L827.76,667.18 L829.36,666.10 L830.96,665.03 L832.55,663.95 L834.15,662.86 L835.74,661.77 L837.32,660.68 L838.91,659.59 L840.49,658.49 L842.07,657.39 L843.65,656.28 L845.22,655.17 L846.80,654.06 L848.37,652.95 L849.94,651.83 L851.50,650.70 L853.06,649.58 L854.62,648.45 L856.18,647.31 L857.74,646.18 L859.29,645.04 L860.84,643.89 L862.39,642.74 L863.93,641.59 L865.48,640.44 L867.02,639.28 L868.56,638.12 L870.10,636.96 L871.63,635.80 L873.16,634.63 L874.69,633.45 L876.22,632.28 L877.75,631.10 L879.27,629.92 L880.80,628.74 L882.32,627.56 L883.84,626.37 L885.36,625.18 L886.87,623.99 L888.39,622.79 L889.90,621.60 L891.41,620.40 L892.92,619.20 L894.43,617.99 L895.94,616.79 L897.44,615.58 L898.95,614.37 L900.45,613.16 L901.95,611.95 L903.45,610.74 L904.95,609.52 L906.45,608.31 L907.95,607.09 L909.44,605.87 L910.94,604.65 L912.43,603.42 L913.92,602.20 L915.41,600.97 L916.91,599.75 L918.40,598.52 L919.89,597.29 L921.37,596.06 L922.86,594.83 L924.35,593.60 L925.84,592.37 L927.32,591.14 L928.81,589.90 L930.29,588.67 L931.78,587.43 L933.26,586.20 L934.75,584.96 L936.23,583.73 L937.72,582.49 L939.20,581.26 L940.68,580.02 L942.16,578.78 L943.65,577.55 L945.13,576.31 L946.61,575.07 L948.10,573.84 L949.58,572.60 L951.06,571.37 L952.54,570.13 L954.03,568.90 L955.51,567.66 L956.99,566.43 L958.48,565.19 L959.96,563.96 L961.45,562.73 L962.93,561.49 L964.42,560.26 L965.90,559.03 L967.39,557.80 L968.88,556.57 L970.36,555.34 L971.85,554.12 L973.34,552.89 L974.83,551.66 L976.31,550.43 L977.80,549.21 L979.29,547.98 L980.78,546.76 L982.27,545.53 L983.76,544.31 L985.25,543.08 L986.74,541.86 L988.23,540.63 L989.72,539.41 L991.21,538.19 L992.70,536.96 L994.20,535.74 L995.69,534.52 L997.18,533.29 L998.67,532.07 L1000.16,530.85 L1001.66,529.63 L1003.15,528.40 L1004.64,527.18 L1006.14,525.96 L1007.63,524.74 L1009.12,523.52 L1010.62,522.29 L1012.11,521.07 L1013.60,519.85 L1015.10,518.63 L1016.59,517.40 L1018.09,516.18 L1019.58,514.96 L1021.07,513.73 L1022.57,512.51 L1024.06,511.29 L1025.56,510.06 L1027.05,508.84 L1028.55,507.61 L1030.04,506.39 L1031.54,505.16 L1033.03,503.94 L1034.53,502.71 L1036.02,501.49 L1037.52,500.26 L1039.01,499.03 L1040.51,497.80 L1042.00,496.58 L1043.50,495.35 L1044.99,494.12 L1046.49,492.89 L1047.98,491.66 L1049.47,490.42 L1050.97,489.19 L1052.46,487.96 L1053.95,486.72 L1055.44,485.49 L1056.93,484.25 L1058.42,483.01 L1059.91,481.77 L1061.40,480.53 L1062.88,479.29 L1064.37,478.05 L1065.85,476.80 L1067.33,475.56 L1068.81,474.31 L1070.29,473.06 L1071.77,471.81 L1073.25,470.56 L1074.72,469.30 L1076.20,468.05 L1077.67,466.79 L1079.14,465.53 L1080.61,464.27 L1082.07,463.01 L1083.54,461.74 L1085.00,460.47 L1086.46,459.21 L1087.92,457.93 L1089.37,456.66 L1090.83,455.38 L1092.28,454.10 L1093.73,452.82 L1095.17,451.54 L1096.62,450.25 L1098.06,448.97 L1099.49,447.67 L1100.93,446.38 L1102.36,445.08 L1103.79,443.78 L1105.22,442.48 L1106.64,441.18 L1108.06,439.87 L1109.48,438.56 L1110.89,437.24 L1112.30,435.93 L1113.71,434.61 L1115.11,433.28 L1116.51,431.96 L1117.90,430.63 L1119.30,429.29 L1120.68,427.96 L1122.07,426.62 L1123.45,425.27 L1124.83,423.93 L1126.20,422.57 L1127.57,421.22 L1128.93,419.86 L1130.29,418.50 L1131.65,417.13 L1133.00,415.76 L1134.35,414.39 L1135.69,413.01 L1137.03,411.63 L1138.36,410.25 L1139.69,408.86 L1141.01,407.46 L1142.33,406.06 L1143.65,404.66 L1144.96,403.25 L1146.26,401.84 L1147.56,400.43 L1148.85,399.01 L1150.14,397.58 L1151.43,396.15 L1152.70,394.72 L1153.98,393.28 L1155.24,391.84 L1156.51,390.39 L1157.76,388.93 L1159.01,387.48 L1160.26,386.01 L1161.49,384.54 L1162.73,383.07 L1163.95,381.59 L1165.17,380.11 L1166.39,378.62 L1167.60,377.13 L1168.80,375.63 L1170.00,374.13 L1171.19,372.62 L1172.38,371.11 L1173.56,369.59 L1174.73,368.07 L1175.90,366.54 L1177.06,365.01 L1178.22,363.47 L1179.37,361.93 L1180.51,360.39 L1181.65,358.84 L1182.79,357.28 L1183.91,355.72 L1185.04,354.16 L1186.15,352.59 L1187.26,351.02 L1188.37,349.45 L1189.47,347.86 L1190.56,346.28 L1191.65,344.69 L1192.73,343.10 L1193.80,341.50 L1194.87,339.90 L1195.94,338.29 L1196.99,336.68 L1198.05,335.07 L1199.09,333.45 L1200.13,331.83 L1201.17,330.20 L1202.20,328.57 L1203.22,326.94 L1204.24,325.30 L1205.25,323.66 L1206.26,322.01 L1207.26,320.36 L1208.26,318.71 L1209.25,317.05 L1210.23,315.39 L1211.21,313.73 L1212.18,312.06 L1213.15,310.39 L1214.11,308.71 L1215.07,307.04 L1216.02,305.35 L1216.96,303.67 L1217.90,301.98 L1218.83,300.29 L1219.76,298.59 L1220.68,296.89 L1221.60,295.19 L1222.51,293.48 L1223.42,291.78 L1224.31,290.06 L1225.21,288.35 L1226.10,286.63 L1226.98,284.91 L1227.86,283.18 L1228.73,281.46 L1229.59,279.73 L1230.45,277.99 L1231.31,276.25 L1232.16,274.52 L1233.00,272.77 L1233.84,271.03 L1234.67,269.28 L1235.50,267.53 L1236.32,265.77 L1237.13,264.02 L1237.94,262.26 L1238.75,260.50 L1239.55,258.73 L1240.34,256.96 L1241.13,255.19 L1241.91,253.42 L1242.69,251.65 L1243.46,249.87 L1244.23,248.09 L1244.99,246.31 L1245.74,244.52 L1246.49,242.74 L1247.23,240.95 L1247.97,239.15 L1248.71,237.36 L1249.43,235.56 L1250.15,233.77 L1250.87,231.96 L1251.58,230.16 L1252.29,228.36 L1252.99,226.55 L1253.68,224.74 L1254.37,222.93 L1255.06,221.12 L1255.73,219.30 L1256.41,217.48 L1257.07,215.67 L1257.74,213.84 L1258.39,212.02 L1259.05,210.20 L1259.69,208.37 L1260.33,206.54 L1260.97,204.71 L1261.60,202.88 L1262.22,201.05 L1262.84,199.21 L1263.45,197.38 L1264.06,195.54 L1264.66,193.70 L1265.26,191.86 L1265.85,190.02 L1266.44,188.18 L1267.02,186.33 L1267.60,184.48 L1268.17,182.64 L1268.74,180.79 L1269.30,178.94 L1269.86,177.08 L1270.41,175.23 L1270.95,173.38 L1271.50,171.52 L1272.03,169.66 L1272.56,167.80 L1273.09,165.94 L1273.61,164.08 L1274.13,162.22 L1274.64,160.36 L1275.15,158.49 L1275.66,156.63 L1276.16,154.76 L1276.65,152.90 L1277.14,151.03 L1277.62,149.16 L1278.11,147.29 L1278.58,145.42 L1279.05,143.55 L1279.52,141.67 L1279.98,139.80 L1280.44,137.93 L1280.90,136.05 L1281.35,134.17 L1281.79,132.30 L1282.23,130.42 L1282.67,128.54 L1283.10,126.66 L1283.53,124.78 L1283.96,122.90 L1284.38,121.02 L1284.80,119.14 L1285.21,117.26 L1285.62,115.38 L1286.02,113.49 L1286.43,111.61 L1286.82,109.73 L1287.22,107.84 L1287.61,105.96 L1287.99,104.07 L1288.37,102.18 L1288.75,100.30 L1289.13,98.41 L1289.50,96.53 L1289.87,94.64 L1290.23,92.75 L1290.59,90.86 L1290.95,88.98 L1291.30,87.09 L1291.65,85.20 L1292.00,83.31 L1292.34,81.42 L1292.68,79.54 L1293.02,77.65 L1293.35,75.76 L1293.68,73.87 L1294.01,71.98 L1294.33,70.09" fill="none" stroke="#ff7f0e" stroke-width="7.0" stroke-opacity="0.3" stroke-linejoin="round" stroke-linecap="butt" clip-path="url(#ax)"/>
<path d="M129.02,956.27 L130.85,955.66 L132.67,955.06 L134.50,954.46 L136.33,953.86 L138.16,953.25 L139.99,952.65 L141.81,952.04 L143.64,951.44 L145.47,950.83 L147.30,950.22 L149.12,949.62 L150.95,949.01 L152.78,948.40 L154.60,947.79 L156.43,947.18 L158.26,946.57 L160.08,945.96 L161.91,945.35 L163.73,944.74 L165.56,944.12 L167.39,943.51 L169.21,942.90 L171.04,942.28 L172.86,941.67 L174.69,941.05 L176.52,940.44 L178.34,939.82 L180.17,939.20 L181.99,938.59 L183.82,937.97 L185.64,937.35 L187.47,936.73 L189.29,936.11 L191.11,935.49 L192.94,934.87 L194.76,934.25 L196.59,933.63 L198.41,933.01 L200.24,932.38 L202.06,931.76 L203.88,931.14 L205.71,930.51 L207.53,929.89 L209.35,929.26 L211.18,928.64 L213.00,928.01 L214.82,927.38 L216.65,926.76 L218.47,926.13 L220.29,925.50 L222.12,924.87 L223.94,924.25 L225.76,923.62 L227.58,922.99 L229.41,922.36 L231.23,921.73 L233.05,921.09 L234.87,920.46 L236.69,919.83 L238.52,919.20 L240.34,918.57 L242.16,917.93 L243.98,917.30 L245.80,916.67 L247.62,916.03 L249.44,915.40 L251.26,914.76 L253.09,914.12 L254.91,913.49 L256.73,912.85 L258.55,912.21 L260.37,911.58 L262.19,910.94 L264.01,910.30 L265.83,909.66 L267.65,909.02 L269.47,908.38 L271.29,907.74 L273.11,907.10 L274.93,906.46 L276.75,905.82 L278.57,905.18 L280.39,904.54 L282.20,903.90 L284.02,903.25 L285.84,902.61 L287.66,901.97 L289.48,901.32 L291.30,900.68 L293.12,900.04 L294.94,899.39 L296.75,898.75 L298.57,898.10 L300.39,897.45 L302.21,896.81 L304.03,896.16 L305.84,895.52 L307.66,894.87 L309.48,894.22 L311.30,893.57 L313.11,892.92 L314.93,892.28 L316.75,891.63 L318.56,890.98 L320.38,890.33 L322.20,889.68 L324.01,889.03 L325.83,888.38 L327.65,887.73 L329.46,887.08 L331.28,886.43 L333.10,885.78 L334.91,885.12 L336.73,884.47 L338.54,883.82 L340.36,883.17 L342.17,882.51 L343.99,881.86 L345.81,881.21 L347.62,880.55 L349.44,879.90 L351.25,879.24 L353.07,878.59 L354.88,877.93 L356.70,877.28 L358.51,876.62 L360.32,875.97 L362.14,875.31 L363.95,874.66 L365.77,874.00 L367.58,873.34 L369.39,872.69 L371.21,872.03 L373.02,871.37 L374.84,870.71 L376.65,870.06 L378.46,869.40 L380.28,868.74 L382.09,868.08 L383.90,867.42 L385.72,866.76 L387.53,866.11 L389.34,865.45 L391.15,864.79 L392.97,864.13 L394.78,863.47 L396.59,862.81 L398.40,862.15 L400.21,861.49 L402.03,860.83 L403.84,860.16 L405.65,859.50 L407.46,858.84 L409.27,858.18 L411.08,857.52 L412.90,856.86 L414.71,856.19 L416.52,855.53 L418.33,854.87 L420.14,854.21 L421.95,853.54 L423.76,852.88 L425.57,852.21 L427.38,851.55 L429.19,850.89 L431.00,850.22 L432.81,849.55 L434.62,848.89 L436.43,848.22 L438.24,847.56 L440.05,846.89 L441.86,846.22 L443.67,845.55 L445.47,844.89 L447.28,844.22 L449.09,843.55 L450.90,842.88 L452.71,842.21 L454.51,841.54 L456.32,840.87 L458.13,840.20 L459.94,839.53 L461.74,838.85 L463.55,838.18 L465.36,837.51 L467.16,836.83 L468.97,836.16 L470.77,835.48 L472.58,834.81 L474.39,834.13 L476.19,833.46 L478.00,832.78 L479.80,832.10 L481.61,831.42 L483.41,830.74 L485.21,830.07 L487.02,829.39 L488.82,828.70 L490.63,828.02 L492.43,827.34 L494.23,826.66 L496.03,825.98 L497.84,825.29 L499.64,824.61 L501.44,823.92 L503.24,823.23 L505.05,822.55 L506.85,821.86 L508.65,821.17 L510.45,820.48 L512.25,819.79 L514.05,819.10 L515.85,818.41 L517.65,817.72 L519.45,817.03 L521.25,816.33 L523.05,815.64 L524.84,814.94 L526.64,814.25 L528.44,813.55 L530.24,812.85 L532.04,812.15 L533.83,811.45 L535.63,810.75 L537.43,810.05 L539.22,809.35 L541.02,808.65 L542.81,807.94 L544.61,807.24 L546.41,806.53 L548.20,805.82 L549.99,805.12 L551.79,804.41 L553.58,803.70 L555.38,802.99 L557.17,802.28 L558.96,801.56 L560.75,800.85 L562.55,800.14 L564.34,799.42 L566.13,798.70 L567.92,797.99 L569.71,797.27 L571.50,796.55 L573.29,795.83 L575.08,795.10 L576.87,794.38 L578.66,793.66 L580.45,792.93 L582.24,792.20 L584.02,791.48 L585.81,790.75 L587.60,790.02 L589.38,789.28 L591.17,788.55 L592.95,787.82 L594.74,787.08 L596.52,786.35 L598.31,785.61 L600.09,784.87 L601.87,784.13 L603.66,783.38 L605.44,782.64 L607.22,781.89 L609.00,781.15 L610.78,780.40 L612.56,779.65 L614.34,778.90 L616.11,778.14 L617.89,777.39 L619.67,776.63 L621.44,775.88 L623.22,775.12 L624.99,774.36 L626.77,773.59 L628.54,772.83 L630.31,772.06 L632.09,771.29 L633.86,770.53 L635.63,769.75 L637.40,768.98 L639.16,768.21 L640.93,767.43 L642.70,766.65 L644.47,765.87 L646.23,765.09 L648.00,764.30 L649.76,763.52 L651.52,762.73 L653.29,761.94 L655.05,761.15 L656.81,760.35 L658.57,759.56 L660.33,758.76 L662.08,757.96 L663.84,757.16 L665.60,756.35 L667.35,755.54 L669.11,754.74 L670.86,753.93 L672.61,753.11 L674.36,752.30 L676.11,751.48 L677.86,750.66 L679.61,749.84 L681.36,749.01 L683.10,748.19 L684.85,747.36 L686.59,746.53 L688.34,745.69 L690.08,744.86 L691.82,744.02 L693.56,743.18 L695.30,742.34 L697.03,741.49 L698.77,740.64 L700.50,739.80 L702.24,738.94 L703.97,738.09 L705.70,737.23 L707.43,736.37 L709.16,735.51 L710.89,734.64 L712.61,733.78 L714.34,732.91 L716.06,732.04 L717.78,731.16 L719.51,730.28 L721.22,729.40 L722.94,728.52 L724.66,727.64 L726.37,726.75 L728.09,725.86 L729.80,724.97 L731.51,724.07 L733.22,723.17 L734.93,722.27 L736.64,721.37 L738.34,720.46 L740.04,719.55 L741.75,718.64 L743.45,717.73 L745.15,716.81 L746.84,715.89 L748.54,714.97 L750.23,714.04 L751.93,713.11 L753.62,712.18 L755.30,711.25 L756.99,710.31 L758.68,709.37 L760.36,708.43 L762.04,707.49 L763.73,706.54 L765.40,705.59 L767.08,704.63 L768.76,703.68 L770.43,702.72 L772.10,701.75 L773.77,700.79 L775.44,699.82 L777.11,698.85 L778.77,697.87 L780.43,696.90 L782.09,695.92 L783.75,694.93 L785.41,693.95 L787.06,692.96 L788.72,691.96 L790.37,690.97 L792.02,689.97 L793.66,688.97 L795.31,687.96 L796.95,686.95 L798.59,685.94 L800.23,684.93 L801.87,683.91 L803.50,682.89 L805.13,681.86 L806.77,680.83 L808.39,679.80 L810.02,678.77 L811.64,677.73 L813.27,676.69 L814.89,675.65 L816.50,674.60 L818.12,673.55 L819.73,672.50 L821.34,671.44 L822.95,670.38 L824.56,669.32 L826.16,668.25 L827.76,667.18 L829.36,666.10 L830.96,665.03 L832.55,663.95 L834.15,662.86 L835.74,661.77 L837.32,660.68 L838.91,659.59 L840.49,658.49 L842.07,657.39 L843.65,656.28 L845.22,655.17 L846.80,654.06 L848.37,652.95 L849.94,651.83 L851.50,650.70 L853.06,649.58 L854.62,648.45 L856.18,647.31 L857.74,646.18 L859.29,645.04 L860.84,643.89 L862.39,642.74 L863.93,641.59 L865.48,640.44 L867.02,639.28 L868.56,638.12 L870.10,636.96 L871.63,635.80 L873.16,634.63 L874.69,633.45 L876.22,632.28 L877.75,631.10 L879.27,629.92 L880.80,628.74 L882.32,627.56 L883.84,626.37 L885.36,625.18 L886.87,623.99 L888.39,622.79 L889.90,621.60 L891.41,620.40 L892.92,619.20 L894.43,617.99 L895.94,616.79 L897.44,615.58 L898.95,614.37 L900.45,613.16 L901.95,611.95 L903.45,610.74 L904.95,609.52 L906.45,608.31 L907.95,607.09 L909.44,605.87 L910.94,604.65 L912.43,603.42 L913.92,602.20 L915.41,600.97 L916.91,599.75 L918.40,598.52 L919.89,597.29 L921.37,596.06 L922.86,594.83 L924.35,593.60 L925.84,592.37 L927.32,591.14 L928.81,589.90 L930.29,588.67 L931.78,587.43 L933.26,586.20 L934.75,584.96 L936.23,583.73 L937.72,582.49 L939.20,581.26 L940.68,580.02 L942.16,578.78 L943.65,577.55 L945.13,576.31 L946.61,575.07 L948.10,573.84 L949.58,572.60 L951.06,571.37 L952.54,570.13 L954.03,568.90 L955.51,567.66 L956.99,566.43 L958.48,565.19 L959.96,563.96 L961.45,562.73 L962.93,561.49 L964.42,560.26 L965.90,559.03 L967.39,557.80 L968.88,556.57 L970.36,555.34 L971.85,554.12 L973.34,552.89 L974.83,551.66 L976.31,550.43 L977.80,549.21 L979.29,547.98 L980.78,546.76 L982.27,545.53 L983.76,544.31 L985.25,543.08 L986.74,541.86 L988.23,540.63 L989.72,539.41 L991.21,538.19 L992.70,536.96 L994.20,535.74 L995.69,534.52 L997.18,533.29 L998.67,532.07 L1000.16,530.85 L1001.66,529.63 L1003.15,528.40 L1004.64,527.18 L1006.14,525.96 L1007.63,524.74 L1009.12,523.52 L1010.62,522.29 L1012.11,521.07 L1013.60,519.85 L1015.10,518.63 L1016.59,517.40 L1018.09,516.18 L1019.58,514.96 L1021.07,513.73 L1022.57,512.51 L1024.06,511.29 L1025.56,510.06 L1027.05,508.84 L1028.55,507.61 L1030.04,506.39 L1031.54,505.16 L1033.03,503.94 L1034.53,502.71 L1036.02,501.49 L1037.52,500.26 L1039.01,499.03 L1040.51,497.80 L1042.00,496.58 L1043.50,495.35 L1044.99,494.12 L1046.49,492.89 L1047.98,491.66 L1049.47,490.42 L1050.97,489.19 L1052.46,487.96 L1053.95,486.72 L1055.44,485.49 L1056.93,484.25 L1058.42,483.01 L1059.91,481.77 L1061.40,480.53 L1062.88,479.29 L1064.37,478.05 L1065.85,476.80 L1067.33,475.56 L1068.81,474.31 L1070.29,473.06 L1071.77,471.81 L1073.25,470.56 L1074.72,469.30 L1076.20,468.05 L1077.67,466.79 L1079.14,465.53 L1080.61,464.27 L1082.07,463.01 L1083.54,461.74 L1085.00,460.47 L1086.46,459.21 L1087.92,457.93 L1089.37,456.66 L1090.83,455.38 L1092.28,454.10 L1093.73,452.82 L1095.17,451.54 L1096.62,450.25 L1098.06,448.97 L1099.49,447.67 L1100.93,446.38 L1102.36,445.08 L1103.79,443.78 L1105.22,442.48 L1106.64,441.18 L1108.06,439.87 L1109.48,438.56 L1110.89,437.24 L1112.30,435.93 L1113.71,434.61 L1115.11,433.28 L1116.51,431.96 L1117.90,430.63 L1119.30,429.29 L1120.68,427.96 L1122.07,426.62 L1123.45,425.27 L1124.83,423.93 L1126.20,422.57 L1127.57,421.22 L1128.93,419.86 L1130.29,418.50 L1131.65,417.13 L1133.00,415.76 L1134.35,414.39 L1135.69,413.01 L1137.03,411.63 L1138.36,410.25 L1139.69,408.86 L1141.01,407.46 L1142.33,406.06 L1143.65,404.66 L1144.96,403.25 L1146.26,401.84 L1147.56,400.43 L1148.85,399.01 L1150.14,397.58 L1151.43,396.15 L1152.70,394.72 L1153.98,393.28 L1155.24,391.84 L1156.51,390.39 L1157.76,388.93 L1159.01,387.48 L1160.26,386.01 L1161.49,384.54 L1162.73,383.07 L1163.95,381.59 L1165.17,380.11 L1166.39,378.62 L1167.60,377.13 L1168.80,375.63 L1170.00,374.13 L1171.19,372.62 L1172.38,371.11 L1173.56,369.59 L1174.73,368.07 L1175.90,366.54 L1177.06,365.01 L1178.22,363.47 L1179.37,361.93 L1180.51,360.39 L1181.65,358.84 L1182.79,357.28 L1183.91,355.72 L1185.04,354.16 L1186.15,352.59 L1187.26,351.02 L1188.37,349.45 L1189.47,347.86 L1190.56,346.28 L1191.65,344.69 L1192.73,343.10 L1193.80,341.50 L1194.87,339.90 L1195.94,338.29 L1196.99,336.68 L1198.05,335.07 L1199.09,333.45 L1200.13,331.83 L1201.17,330.20 L1202.20,328.57 L1203.22,326.94 L1204.24,325.30 L1205.25,323.66 L1206.26,322.01 L1207.26,320.36 L1208.26,318.71 L1209.25,317.05 L1210.23,315.39 L1211.21,313.73 L1212.18,312.06 L1213.15,310.39 L1214.11,308.71 L1215.07,307.04 L1216.02,305.35 L1216.96,303.67 L1217.90,301.98 L1218.83,300.29 L1219.76,298.59 L1220.68,296.89 L1221.60,295.19 L1222.51,293.48 L1223.42,291.78 L1224.31,290.06 L1225.21,288.35 L1226.10,286.63 L1226.98,284.91 L1227.86,283.18 L1228.73,281.46 L1229.59,279.73 L1230.45,277.99 L1231.31,276.25 L1232.16,274.52 L1233.00,272.77 L1233.84,271.03 L1234.67,269.28 L1235.50,267.53 L1236.32,265.77 L1237.13,264.02 L1237.94,262.26 L1238.75,260.50 L1239.55,258.73 L1240.34,256.96 L1241.13,255.19 L1241.91,253.42 L1242.69,251.65 L1243.46,249.87 L1244.23,248.09 L1244.99,246.31 L1245.74,244.52 L1246.49,242.74 L1247.23,240.95 L1247.97,239.15 L1248.71,237.36 L1249.43,235.56 L1250.15,233.77 L1250.87,231.96 L1251.58,230.16 L1252.29,228.36 L1252.99,226.55 L1253.68,224.74 L1254.37,222.93 L1255.06,221.12 L1255.73,219.30 L1256.41,217.48 L1257.07,215.67 L1257.74,213.84 L1258.39,212.02 L1259.05,210.20 L1259.69,208.37 L1260.33,206.54 L1260.97,204.71 L1261.60,202.88 L1262.22,201.05 L1262.84,199.21 L1263.45,197.38 L1264.06,195.54 L1264.66,193.70 L1265.26,191.86 L1265.85,190.02 L1266.44,188.18 L1267.02,186.33 L1267.60,184.48 L1268.17,182.64 L1268.74,180.79 L1269.30,178.94 L1269.86,177.08 L1270.41,175.23 L1270.95,173.38 L1271.50,171.52 L1272.03,169.66 L1272.56,167.80 L1273.09,165.94 L1273.61,164.08 L1274.13,162.22 L1274.64,160.36 L1275.15,158.49 L1275.66,156.63 L1276.16,154.76 L1276.65,152.90 L1277.14,151.03 L1277.62,149.16 L1278.11,147.29 L1278.58,145.42 L1279.05,143.55 L1279.52,141.67 L1279.98,139.80 L1280.44,137.93 L1280.90,136.05 L1281.35,134.17 L1281.79,132.30 L1282.23,130.42 L1282.67,128.54 L1283.10,126.66 L1283.53,124.78 L1283.96,122.90 L1284.38,121.02 L1284.80,119.14 L1285.21,117.26 L1285.62,115.38 L1286.02,113.49 L1286.43,111.61 L1286.82,109.73 L1287.22,107.84 L1287.61,105.96 L1287.99,104.07 L1288.37,102.18 L1288.75,100.30 L1289.13,98.41 L1289.50,96.53 L1289.87,94.64 L1290.23,92.75 L1290.59,90.86 L1290.95,88.98 L1291.30,87.09 L1291.65,85.20 L1292.00,83.31 L1292.34,81.42 L1292.68,79.54 L1293.02,77.65 L1293.35,75.76 L1293.68,73.87 L1294.01,71.98 L1294.33,70.09" fill="none" stroke="#ff7f0e" stroke-width="4.0" stroke-linejoin="round" stroke-linecap="butt" clip-path="url(#ax)"/>
<line x1="126.9" y1="181.5" x2="1207" y2="181.5" stroke="#e00000" stroke-width="6.0" stroke-opacity="0.45" stroke-dasharray="20.44 5.98" stroke-dashoffset="1" clip-path="url(#ax)"/>
<line x1="126.9" y1="181.5" x2="1207" y2="181.5" stroke="#e00000" stroke-width="3.0" stroke-dasharray="18.44 7.98" clip-path="url(#ax)"/>
<line x1="1201" y1="181.5" x2="1205.5" y2="181.5" stroke="#e00000" stroke-width="3.0"/>
<line x1="126.9" y1="320.0" x2="1208.5" y2="320.0" stroke="#2ca02c" stroke-width="7.0" stroke-opacity="0.3" stroke-dasharray="20.44 5.98" stroke-dashoffset="1" clip-path="url(#ax)"/>
<line x1="126.9" y1="320.0" x2="1208.5" y2="320.0" stroke="#2ca02c" stroke-width="4.0" stroke-dasharray="18.44 7.98" clip-path="url(#ax)"/>
<line x1="1206.8" y1="963.6" x2="1206.8" y2="181.5" stroke="#9467bd" stroke-width="5.4" stroke-opacity="0.45" stroke-dasharray="20.5 6" stroke-dashoffset="1" clip-path="url(#ax)"/>
<line x1="1206.8" y1="963.6" x2="1206.8" y2="181.5" stroke="#9467bd" stroke-width="2.4" stroke-dasharray="18.5 8" clip-path="url(#ax)"/>
<g stroke="#000" stroke-width="4.6" stroke-opacity="0.3" fill="none">
<rect x="129.0" y="79.2" width="1187.0" height="884.4" stroke-linejoin="miter"/>
<line x1="129.00" y1="963.6" x2="129.00" y2="975.27"/>
<line x1="344.78" y1="963.6" x2="344.78" y2="975.27"/>
<line x1="560.56" y1="963.6" x2="560.56" y2="975.27"/>
<line x1="776.34" y1="963.6" x2="776.34" y2="975.27"/>
<line x1="992.12" y1="963.6" x2="992.12" y2="975.27"/>
<line x1="1207.90" y1="963.6" x2="1207.90" y2="975.27"/>
<line x1="129.0" y1="963.60" x2="117.33" y2="963.60"/>
<line x1="129.0" y1="853.05" x2="117.33" y2="853.05"/>
<line x1="129.0" y1="742.50" x2="117.33" y2="742.50"/>
<line x1="129.0" y1="631.95" x2="117.33" y2="631.95"/>
<line x1="129.0" y1="521.40" x2="117.33" y2="521.40"/>
<line x1="129.0" y1="410.85" x2="117.33" y2="410.85"/>
<line x1="129.0" y1="300.30" x2="117.33" y2="300.30"/>
<line x1="129.0" y1="189.75" x2="117.33" y2="189.75"/>
<line x1="129.0" y1="79.20" x2="117.33" y2="79.20"/>
</g>
<g stroke="#000" stroke-width="2.2" stroke-opacity="1" fill="none">
<rect x="129.0" y="79.2" width="1187.0" height="884.4" stroke-linejoin="miter"/>
<line x1="129.00" y1="963.6" x2="129.00" y2="975.27"/>
<line x1="344.78" y1="963.6" x2="344.78" y2="975.27"/>
<line x1="560.56" y1="963.6" x2="560.56" y2="975.27"/>
<line x1="776.34" y1="963.6" x2="776.34" y2="975.27"/>
<line x1="992.12" y1="963.6" x2="992.12" y2="975.27"/>
<line x1="1207.90" y1="963.6" x2="1207.90" y2="975.27"/>
<line x1="129.0" y1="963.60" x2="117.33" y2="963.60"/>
<line x1="129.0" y1="853.05" x2="117.33" y2="853.05"/>
<line x1="129.0" y1="742.50" x2="117.33" y2="742.50"/>
<line x1="129.0" y1="631.95" x2="117.33" y2="631.95"/>
<line x1="129.0" y1="521.40" x2="117.33" y2="521.40"/>
<line x1="129.0" y1="410.85" x2="117.33" y2="410.85"/>
<line x1="129.0" y1="300.30" x2="117.33" y2="300.30"/>
<line x1="129.0" y1="189.75" x2="117.33" y2="189.75"/>
<line x1="129.0" y1="79.20" x2="117.33" y2="79.20"/>
</g>
<g fill="none" stroke="#000" stroke-width="4.6" stroke-opacity="0.3" stroke-linecap="butt" stroke-linejoin="miter">
<path d="M694.1,230.8 L694.1,186.5 M686,201.5 L694.1,186.5 L702.2,201.5"/>
<path d="M694.1,267.2 L694.1,320.5 M686,305.5 L694.1,320.5 L702.2,305.5"/>
<path d="M1060.7,164.7 Q1124,189.3 1194,183.4"/>
<path d="M1180.5,176.6 L1194,183.4 L1180.3,191.3"/>
<path d="M1123.1,371.3 Q1163.4,354.6 1197.2,328"/>
<path d="M1182,331 L1197.2,328 L1192,341.3"/>
</g>
<g fill="none" stroke="#000" stroke-width="2.5" stroke-opacity="1" stroke-linecap="butt" stroke-linejoin="miter">
<path d="M694.1,230.8 L694.1,186.5 M686,201.5 L694.1,186.5 L702.2,201.5"/>
<path d="M694.1,267.2 L694.1,320.5 M686,305.5 L694.1,320.5 L702.2,305.5"/>
<path d="M1060.7,164.7 Q1124,189.3 1194,183.4"/>
<path d="M1180.5,176.6 L1194,183.4 L1180.3,191.3"/>
<path d="M1123.1,371.3 Q1163.4,354.6 1197.2,328"/>
<path d="M1182,331 L1197.2,328 L1192,341.3"/>
</g>
<rect x="885.5" y="786.4" width="413.7" height="160.3" rx="6.7" ry="6.7" fill="#ffffff" fill-opacity="0.8" stroke="#cccccc" stroke-opacity="0.8" stroke-width="3"/>
<line x1="892.8" y1="814" x2="965.7" y2="814" stroke="#1f77b4" stroke-width="7.0" stroke-opacity="0.3"/>
<line x1="892.8" y1="814" x2="965.7" y2="814" stroke="#1f77b4" stroke-width="4.0"/>
<line x1="892.8" y1="863.9" x2="965.7" y2="863.9" stroke="#ff7f0e" stroke-width="7.0" stroke-opacity="0.3"/>
<line x1="892.8" y1="863.9" x2="965.7" y2="863.9" stroke="#ff7f0e" stroke-width="4.0"/>
<rect x="895.3" y="902.4" width="67.8" height="24" fill="#ffcccc"/>
<text x="360.97" y="55.60" font-size="42.5" textLength="723.20" lengthAdjust="spacingAndGlyphs">0 to 100 acceleration contrast curve</text>
<text x="85.67" y="977.00" font-size="34.5" textLength="18.54" lengthAdjust="spacingAndGlyphs">0</text>
<text x="85.26" y="864.20" font-size="34.5" textLength="19.31" lengthAdjust="spacingAndGlyphs">2</text>
<text x="86.36" y="754.20" font-size="34.5" textLength="17.73" lengthAdjust="spacingAndGlyphs">4</text>
<text x="83.40" y="644.20" font-size="34.5" textLength="18.90" lengthAdjust="spacingAndGlyphs">6</text>
<text x="83.59" y="533.20" font-size="34.5" textLength="18.70" lengthAdjust="spacingAndGlyphs">8</text>
<text x="64.16" y="423.10" font-size="34.5" textLength="37.71" lengthAdjust="spacingAndGlyphs">10</text>
<text x="64.57" y="313.20" font-size="34.5" textLength="36.02" lengthAdjust="spacingAndGlyphs">12</text>
<text x="64.58" y="201.00" font-size="34.5" textLength="37.41" lengthAdjust="spacingAndGlyphs">14</text>
<text x="64.55" y="90.00" font-size="34.5" textLength="37.79" lengthAdjust="spacingAndGlyphs">16</text>
<text x="118.71" y="1012.60" font-size="34.5" textLength="19.35" lengthAdjust="spacingAndGlyphs">0</text>
<text x="321.68" y="1012.60" font-size="34.5" textLength="40.59" lengthAdjust="spacingAndGlyphs">20</text>
<text x="540.02" y="1012.60" font-size="34.5" textLength="37.64" lengthAdjust="spacingAndGlyphs">40</text>
<text x="754.19" y="1012.60" font-size="34.5" textLength="42.43" lengthAdjust="spacingAndGlyphs">60</text>
<text x="969.70" y="1012.60" font-size="34.5" textLength="42.12" lengthAdjust="spacingAndGlyphs">80</text>
<text x="1176.85" y="1012.60" font-size="34.5" textLength="59.02" lengthAdjust="spacingAndGlyphs">100</text>
<text x="617.98" y="1057.40" font-size="35.2" textLength="208.38" lengthAdjust="spacingAndGlyphs">speed(km/h)</text>
<text x="873.68" y="109.30" font-size="35.2" textLength="205.79" lengthAdjust="spacingAndGlyphs">speed:99.92</text>
<text x="873.33" y="149.70" font-size="35.2" textLength="157.12" lengthAdjust="spacingAndGlyphs">time:14.1</text>
<text x="874.08" y="381.90" font-size="35.2" textLength="225.98" lengthAdjust="spacingAndGlyphs">speed:100.04</text>
<text x="876.42" y="420.10" font-size="35.2" textLength="156.70" lengthAdjust="spacingAndGlyphs">time:11.6</text>
<text x="665.57" y="259.70" font-size="35.2" textLength="69.11" lengthAdjust="spacingAndGlyphs">2.5s</text>
<text x="991.39" y="825.70" font-size="35.2" textLength="96.27" lengthAdjust="spacingAndGlyphs">single</text>
<text x="991.03" y="875.80" font-size="35.2" textLength="148.99" lengthAdjust="spacingAndGlyphs">economy</text>
<text x="988.77" y="926.40" font-size="35.2" textLength="297.31" lengthAdjust="spacingAndGlyphs">0-100km/h region</text>
<text transform="translate(40.7,580.7) rotate(-90)" x="-0.57" y="0" font-size="35.2" textLength="116.36" lengthAdjust="spacingAndGlyphs">time(s)</text>
</svg>
</body></html>
